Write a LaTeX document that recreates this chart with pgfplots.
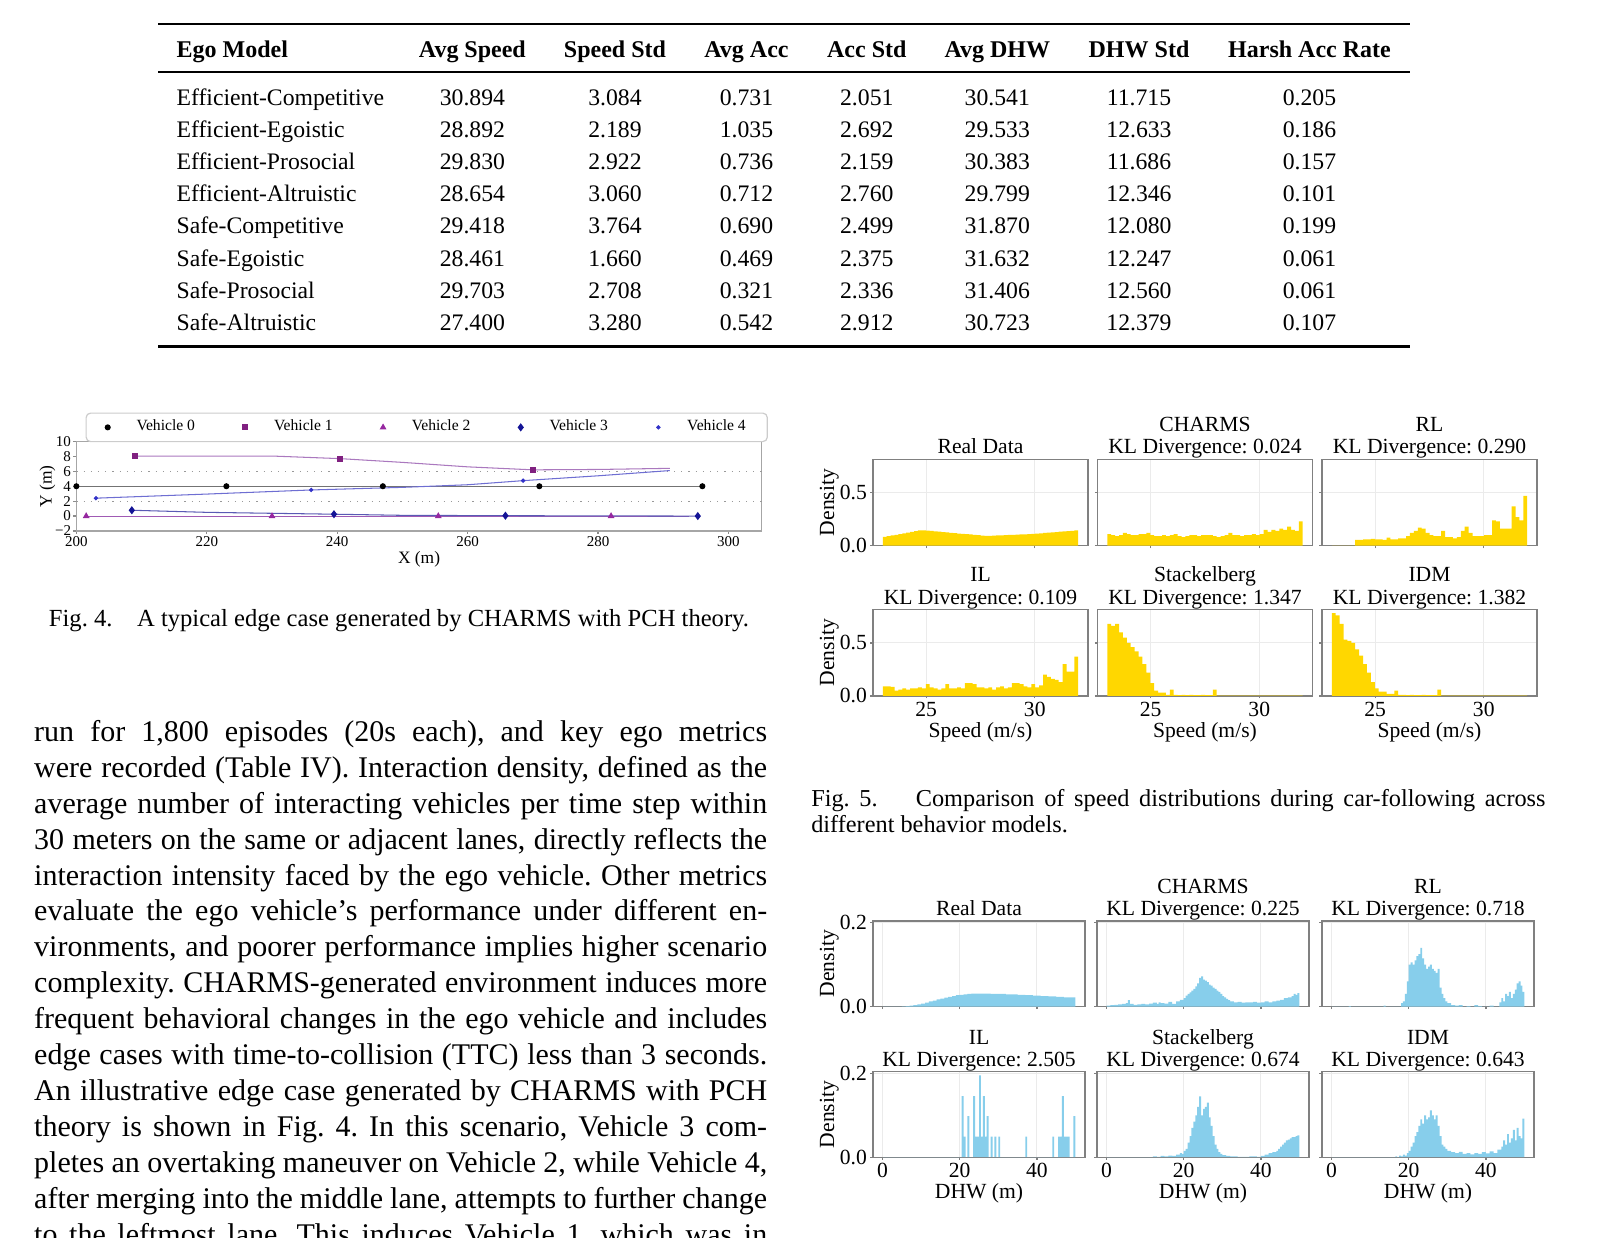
\documentclass[border=0pt]{standalone}
\usepackage{fontspec}
\setmainfont{Liberation Serif}
\usepackage{pgfplots}
\usepackage{pgfplotstable}
\pgfplotsset{compat=1.18}
\definecolor{histgold}{RGB}{255,215,0}
\definecolor{histblue}{RGB}{135,206,235}
\definecolor{vone}{RGB}{128,32,128}
\definecolor{vtwo}{RGB}{150,40,160}
\definecolor{vthree}{RGB}{20,20,150}
\definecolor{vfour}{RGB}{50,50,200}
\definecolor{lone}{RGB}{170,120,190}
\definecolor{ltwo}{RGB}{160,90,180}
\definecolor{lthree}{RGB}{90,90,180}
\definecolor{lfour}{RGB}{110,110,210}

\pgfplotstableread{
x real charms rl il stack idm
23.00 0.083 0.11 0 0.09 0.68 0.78
23.18 0.090 0.10 0 0.09 0.66 0.76
23.36 0.097 0.09 0 0.085 0.68 0.68
23.54 0.103 0.10 0 0.05 0.60 0.53
23.72 0.110 0.12 0 0.06 0.55 0.52
23.90 0.117 0.11 0 0.07 0.50 0.50
24.08 0.124 0.10 0.055 0.06 0.46 0.44
24.26 0.130 0.10 0.055 0.07 0.42 0.38
24.44 0.137 0.11 0.06 0.07 0.37 0.30
24.62 0.144 0.11 0.06 0.08 0.30 0.22
24.80 0.145 0.12 0.065 0.07 0.22 0.13
24.98 0.142 0.10 0.06 0.11 0.12 0.07
25.16 0.139 0.09 0.06 0.08 0.05 0.04
25.34 0.135 0.09 0.055 0.07 0.03 0.04
25.52 0.132 0.10 0.075 0.06 0.03 0.02
25.70 0.129 0.09 0.06 0.07 0.01 0.02
25.88 0.125 0.10 0.06 0.11 0.06 0.05
26.06 0.122 0.11 0.07 0.07 0.01 0.01
26.24 0.119 0.09 0.07 0.07 0.008 0.01
26.42 0.115 0.08 0.09 0.08 0.01 0.008
26.60 0.112 0.09 0.12 0.07 0.008 0.01
26.78 0.109 0.10 0.14 0.12 0.01 0.008
26.96 0.106 0.10 0.17 0.12 0.008 0.008
27.14 0.102 0.09 0.16 0.11 0.008 0.01
27.32 0.099 0.10 0.12 0.08 0.01 0.008
27.50 0.096 0.10 0.10 0.08 0.008 0.008
27.68 0.093 0.10 0.09 0.07 0.008 0.008
27.86 0.093 0.09 0.09 0.08 0.06 0.06
28.04 0.095 0.08 0.14 0.06 0.003 0.003
28.22 0.097 0.09 0.08 0.08 0.003 0.003
28.40 0.098 0.10 0.08 0.09 0.003 0.003
28.58 0.100 0.12 0.07 0.07 0.003 0.003
28.76 0.102 0.10 0.08 0.08 0.003 0.003
28.94 0.103 0.10 0.14 0.12 0.003 0.003
29.12 0.105 0.09 0.18 0.12 0.003 0.003
29.30 0.107 0.10 0.12 0.11 0.003 0.003
29.48 0.108 0.10 0.09 0.09 0.003 0.003
29.66 0.110 0.11 0.09 0.08 0.003 0.003
29.84 0.111 0.10 0.09 0.11 0.003 0.003
30.02 0.114 0.11 0.10 0.08 0.003 0.003
30.20 0.117 0.15 0.10 0.10 0.003 0.003
30.38 0.120 0.13 0.24 0.20 0.003 0.003
30.56 0.123 0.15 0.23 0.18 0.003 0.003
30.74 0.126 0.14 0.16 0.16 0.003 0.003
30.92 0.129 0.16 0.16 0.15 0.003 0.003
31.10 0.132 0.15 0.16 0.13 0.003 0.003
31.28 0.135 0.18 0.37 0.30 0.003 0.003
31.46 0.138 0.15 0.27 0.23 0.003 0.003
31.64 0.141 0.14 0.24 0.23 0.003 0.003
31.82 0.144 0.23 0.47 0.37 0.003 0.003
32.00 0.144 0.23 0.47 0.37 0.003 0.003
}\speedtab

\newcommand{\fsfig}{\fontsize{7.2}{8}\selectfont}
\newcommand{\ttwo}[2]{%
  \node[font=\fsfig, anchor=base, inner sep=0pt] at ([yshift=9.2pt]rel axis cs:0.5,1) {#1};
  \node[font=\fsfig, anchor=base, inner sep=0pt] at ([yshift=1.8pt]rel axis cs:0.5,1) {#2};}
\newcommand{\tone}[1]{%
  \node[font=\fsfig, anchor=base, inner sep=0pt] at ([yshift=1.8pt]rel axis cs:0.5,1) {#1};}
\newcommand{\dens}{%
  \node[font=\fsfig, anchor=base, rotate=90, inner sep=0pt] at ([xshift=-13pt]rel axis cs:0,0.5) {Density};}
\newcommand{\xlab}[1]{%
  \node[font=\fsfig, anchor=base, inner sep=0pt] at ([yshift=-13.8pt]rel axis cs:0.5,0) {#1};}

\pgfplotsset{
  histax/.style={
    scale only axis, anchor=north west, clip=false,
    enlargelimits=false,
    axis line style={black!50, line width=0.45pt},
    tick style={black!50, line width=0.45pt},
    major tick length=0.85pt,
    tick align=outside, tick pos=left,
    xmajorgrids, ymajorgrids,
    major grid style={black!8, line width=0.3pt},
    tick label style={font=\fsfig, inner sep=1pt},
    /pgf/number format/assume math mode=true,
    yticklabel style={/pgf/number format/.cd, fixed, fixed zerofill, precision=1},
  },
  speedax/.style={histax, width=71.67pt, height=28.8pt,
    xmin=22.55, xmax=32.45, ymin=0, ymax=0.815, xtick={25,30}, ytick={0,0.5}},
  dhwax/.style={histax, width=70.67pt, height=28.5pt,
    xmin=-2.5, xmax=52.5, ymin=0, ymax=0.204, xtick={0,20,40}, ytick={0,0.2}},
  noxl/.style={xticklabels={}},
  noyl/.style={yticklabels={}},
  gbar/.style={fill=histgold, draw=none, const plot mark left},
  bbar/.style={fill=histblue, draw=none, const plot mark left},
}

\newcommand{\trow}[9]{%
  \node[anchor=base west] at (176,#1) {#2};
  \node[anchor=base] at (472.4,#1) {#3};
  \node[anchor=base] at (615,#1) {#4};
  \node[anchor=base] at (746.5,#1) {#5};
  \node[anchor=base] at (866.8,#1) {#6};
  \node[anchor=base] at (997.3,#1) {#7};
  \node[anchor=base] at (1139,#1) {#8};
  \node[anchor=base] at (1309.5,#1) {#9};}

\newcommand{\bline}[2]{\node[anchor=base west, inner sep=0pt] at (33.6,#1) {\hbox to 244.33pt{#2}};}

\begin{document}
\frenchspacing
\begin{tikzpicture}
\path[use as bounding box] (0pt,0pt) rectangle (532.333pt,-412.333pt);
\clip (0pt,0pt) rectangle (532.333pt,-412.333pt);

\begin{scope}[x=0.333333pt, y=-0.333333pt]
\coordinate (f4) at (76.4,441.5);
\coordinate (s1) at (873,459.3);
\coordinate (s2) at (1097.5,459.3);
\coordinate (s3) at (1322,459.3);
\coordinate (s4) at (873,609.5);
\coordinate (s5) at (1097.5,609.5);
\coordinate (s6) at (1322,609.5);
\coordinate (d1) at (873,921);
\coordinate (d2) at (1097,921);
\coordinate (d3) at (1322,921);
\coordinate (d4) at (873,1071.7);
\coordinate (d5) at (1097,1071.7);
\coordinate (d6) at (1322,1071.7);

% ---------- table ----------
\draw[line width=0.8pt] (158,24.3) -- (1410,24.3);
\draw[line width=0.45pt] (158,72) -- (1410,72);
\draw[line width=0.8pt] (158,346.7) -- (1410,346.7);
\begin{scope}[font=\fontsize{7.9}{9.6}\selectfont, inner sep=0pt]
\begin{scope}[font=\fontsize{8}{9.6}\selectfont\bfseries]
\trow{58}{Ego Model}{Avg Speed}{Speed Std}{Avg Acc}{Acc Std}{Avg DHW}{DHW Std}{Harsh Acc Rate}
\end{scope}
\trow{105.7}{Efficient-Competitive}{30.894}{3.084}{0.731}{2.051}{30.541}{11.715}{0.205}
\trow{138}{Efficient-Egoistic}{28.892}{2.189}{1.035}{2.692}{29.533}{12.633}{0.186}
\trow{169.7}{Efficient-Prosocial}{29.830}{2.922}{0.736}{2.159}{30.383}{11.686}{0.157}
\trow{202}{Efficient-Altruistic}{28.654}{3.060}{0.712}{2.760}{29.799}{12.346}{0.101}
\trow{234}{Safe-Competitive}{29.418}{3.764}{0.690}{2.499}{31.870}{12.080}{0.199}
\trow{266.3}{Safe-Egoistic}{28.461}{1.660}{0.469}{2.375}{31.632}{12.247}{0.061}
\trow{298.3}{Safe-Prosocial}{29.703}{2.708}{0.321}{2.336}{31.406}{12.560}{0.061}
\trow{330.3}{Safe-Altruistic}{27.400}{3.280}{0.542}{2.912}{30.723}{12.379}{0.107}
\end{scope}

% ---------- captions ----------
\node[anchor=base, inner sep=0pt, font=\fontsize{8.2}{9.5}\selectfont] at (399,627)
  {Fig. 4.\hspace{8.2pt}A typical edge case generated by CHARMS with PCH theory.};
\node[anchor=base west, inner sep=0pt, font=\fontsize{8.1}{9.5}\selectfont] at (810.7,806.5)
  {\hbox to 244.77pt{Fig. 5.\hskip 8pt plus 4pt Comparison of speed distributions during car-following across}};
\node[anchor=base west, inner sep=0pt, font=\fontsize{8.1}{9.5}\selectfont] at (810.7,833)
  {different behavior models.};

% ---------- body text ----------
\begin{scope}[font=\fontsize{10}{12}\selectfont]
\bline{741.5}{run for 1,800 episodes (20s each), and key ego metrics}
\bline{777.4}{were recorded (Table IV). Interaction density, defined as the}
\bline{813.3}{average number of interacting vehicles per time step within}
\bline{849.2}{30 meters on the same or adjacent lanes, directly reflects the}
\bline{885.1}{interaction intensity faced by the ego vehicle. Other metrics}
\bline{921.0}{evaluate the ego vehicle’s performance under different en-}
\bline{956.9}{vironments, and poorer performance implies higher scenario}
\bline{992.8}{complexity. CHARMS-generated environment induces more}
\bline{1028.7}{frequent behavioral changes in the ego vehicle and includes}
\bline{1064.6}{edge cases with time-to-collision (TTC) less than 3 seconds.}
\bline{1100.5}{An illustrative edge case generated by CHARMS with PCH}
\bline{1136.4}{theory is shown in Fig. 4. In this scenario, Vehicle 3 com-}
\bline{1172.3}{pletes an overtaking maneuver on Vehicle 2, while Vehicle 4,}
\bline{1208.2}{after merging into the middle lane, attempts to further change}
\bline{1244.1}{to the leftmost lane. This induces Vehicle 1, which was in}
\end{scope}
\end{scope}

% ---------- Fig. 4 ----------
\begin{axis}[scale only axis, anchor=north west, at={(f4)},
  width=228.43pt, height=29.83pt, clip=false,
  xmin=200, xmax=305.1, ymin=-2, ymax=10,
  xtick={200,220,240,260,280,300},
  ytick={-2,0,2,4,6,8,10}, yticklabels={−2,0,2,4,6,8,10},
  axis line style={black!35, line width=0.4pt},
  tick style={black!45, line width=0.4pt}, major tick length=1pt,
  tick align=outside, tick pos=left,
  tick label style={font=\fontsize{5}{6}\selectfont, inner sep=0.6pt},
  /pgf/number format/assume math mode=true,
  legend columns=5, legend cell align=left,
  legend image code/.code={%
    \path[draw=none, fill=none] (0pt,-1pt) rectangle (9.6pt,1pt);
    \draw[#1, only marks] plot coordinates {(2pt,0pt)};},
  legend style={at={(0.0133,1.324)}, anchor=north west, draw=black!20, rounded corners=1.5pt,
    inner xsep=5.2pt, inner ysep=0.2pt, font=\fontsize{5.2}{6}\selectfont,
    nodes={inner sep=2pt, text depth=0.15em},
    /tikz/every even column/.append style={column sep=12.8pt}},
]
\addplot[only marks, mark=*, mark size=0.8pt, black] coordinates {(200,4) (223,4) (247,4) (271,4) (296,4)};
\addlegendentry{Vehicle 0}
\addplot[only marks, mark=square*, mark size=0.8pt, vone] coordinates {(209,8.05) (240.5,7.7) (270,6.2)};
\addlegendentry{Vehicle 1}
\addplot[only marks, mark=triangle*, mark size=0.9pt, vtwo] coordinates {(201.5,0) (230,0) (255.5,0) (282,0)};
\addlegendentry{Vehicle 2}
\addplot[only marks, mark=diamond*, mark size=1.05pt, vthree] coordinates {(208.5,0.78) (239.5,0.25) (265.8,0.05) (295.3,0)};
\addlegendentry{Vehicle 3}
\addplot[only marks, mark=*, mark size=0.5pt, vfour] coordinates {(203,2.4) (236,3.5) (268.5,4.75)};
\addlegendentry{Vehicle 4}
\addplot[forget plot, black!40, dotted, line width=0.4pt] coordinates {(200,6) (305.1,6)};
\addplot[forget plot, black!40, dotted, line width=0.4pt] coordinates {(200,2) (305.1,2)};
\addplot[forget plot, black!55, line width=0.35pt] coordinates {(200,4) (296,4)};
\addplot[forget plot, lone, line width=0.35pt] coordinates {(209,8.05) (230,8.05) (240.5,7.7) (250,7.2) (260,6.6) (270,6.2) (280,6.25) (291,6.4)};
\addplot[forget plot, ltwo, line width=0.35pt] coordinates {(201.5,0) (294,0)};
\addplot[forget plot, lthree, line width=0.35pt] coordinates {(208.5,0.78) (220,0.5) (239.5,0.25) (250,0.1) (265.8,0.05) (295.3,0)};
\addplot[forget plot, lfour, line width=0.35pt] coordinates {(203,2.4) (220,2.95) (236,3.5) (250,3.85) (260,4.2) (268.5,4.75) (280,5.4) (291,6.1)};
\node[font=\fontsize{5.8}{7}\selectfont, anchor=base, rotate=90, inner sep=0pt] at ([xshift=-8.3pt]rel axis cs:0,0.5) {Y (m)};
\node[font=\fontsize{5.8}{7}\selectfont, anchor=base, inner sep=0pt] at ([yshift=-10.9pt]rel axis cs:0.5,0) {X (m)};
\end{axis}

% ---------- Fig. 5 speed ----------
\begin{axis}[speedax, at={(s1)}, noxl]
\addplot[gbar] table[x=x,y=real] {\speedtab} \closedcycle;
\tone{Real Data}\dens
\end{axis}
\begin{axis}[speedax, at={(s2)}, noxl, noyl]
\addplot[gbar] table[x=x,y=charms] {\speedtab} \closedcycle;
\ttwo{CHARMS}{KL Divergence: 0.024}
\end{axis}
\begin{axis}[speedax, at={(s3)}, noxl, noyl]
\addplot[gbar] table[x=x,y=rl] {\speedtab} \closedcycle;
\ttwo{RL}{KL Divergence: 0.290}
\end{axis}
\begin{axis}[speedax, at={(s4)}]
\addplot[gbar] table[x=x,y=il] {\speedtab} \closedcycle;
\ttwo{IL}{KL Divergence: 0.109}\dens\xlab{Speed (m/s)}
\end{axis}
\begin{axis}[speedax, at={(s5)}, noyl]
\addplot[gbar] table[x=x,y=stack] {\speedtab} \closedcycle;
\ttwo{Stackelberg}{KL Divergence: 1.347}\xlab{Speed (m/s)}
\end{axis}
\begin{axis}[speedax, at={(s6)}, noyl]
\addplot[gbar] table[x=x,y=idm] {\speedtab} \closedcycle;
\ttwo{IDM}{KL Divergence: 1.382}\xlab{Speed (m/s)}
\end{axis}

% ---------- DHW ----------
\begin{axis}[dhwax, at={(d1)}, noxl]
\addplot[bbar] coordinates {(0,0) (5,0.0005) (6,0.001) (7,0.002) (8,0.003) (9,0.005) (10,0.007) (11,0.009) (12,0.012) (13,0.014) (14,0.017) (15,0.019) (16,0.021) (17,0.023) (18,0.025) (19,0.027) (20,0.028) (21,0.029) (22,0.030) (23,0.031) (24,0.031) (25,0.031) (26,0.031) (27,0.031) (28,0.030) (29,0.030) (30,0.030) (31,0.030) (32,0.029) (33,0.029) (34,0.029) (35,0.028) (36,0.028) (37,0.027) (38,0.027) (39,0.026) (40,0.026) (41,0.025) (42,0.025) (43,0.024) (44,0.024) (45,0.023) (46,0.023) (47,0.022) (48,0.022) (49,0.022) (50,0.022)} \closedcycle;
\tone{Real Data}\dens
\end{axis}
\begin{axis}[dhwax, at={(d2)}, noxl, noyl]
\addplot[bbar] coordinates {(0,0.002) (1,0.003) (2,0.004) (3,0.005) (4,0.006) (5,0.008) (5.5,0.015) (6,0.006) (7,0.004) (8,0.005) (9,0.006) (10,0.005) (11,0.007) (12,0.009) (13,0.006) (13.5,0.01) (14,0.008) (15,0.007) (16,0.011) (17,0.006) (18,0.012) (19,0.016) (20,0.02) (20.5,0.026) (21,0.03) (21.5,0.034) (22,0.038) (22.5,0.042) (23,0.048) (23.5,0.055) (24,0.068) (24.5,0.072) (25,0.064) (25.5,0.062) (26,0.058) (26.5,0.052) (27,0.05) (27.5,0.045) (28,0.042) (28.5,0.038) (29,0.035) (29.5,0.03) (30,0.025) (30.5,0.022) (31,0.018) (31.5,0.015) (32,0.012) (33,0.01) (34,0.011) (35,0.009) (36,0.01) (37,0.01) (38,0.011) (39,0.009) (40,0.01) (41,0.012) (42,0.01) (43,0.012) (44,0.014) (45,0.016) (46,0.02) (47,0.022) (48,0.025) (48.5,0.03) (49,0.028) (49.5,0.032) (50,0.032)} \closedcycle;
\ttwo{CHARMS}{KL Divergence: 0.225}
\end{axis}
\begin{axis}[dhwax, at={(d3)}, noxl, noyl]
\addplot[bbar] coordinates {(0,0) (4.5,0.001) (5,0) (13.5,0.002) (14,0) (18,0.008) (18.5,0.012) (19,0.03) (19.5,0.06) (20,0.1) (20.5,0.105) (21,0.1) (21.5,0.11) (22,0.12) (22.5,0.125) (23,0.14) (23.5,0.115) (24,0.1) (24.5,0.09) (25,0.095) (25.5,0.1) (26,0.09) (26.5,0.085) (27,0.08) (27.5,0.09) (28,0.045) (28.5,0.03) (29,0.02) (29.5,0.012) (30,0.008) (31,0.003) (32,0.002) (33,0.003) (34,0) (35,0.001) (36,0) (37,0.003) (38,0.001) (39,0) (41,0.002) (42,0) (43.5,0.01) (44,0.02) (44.5,0.012) (45,0.03) (45.5,0.025) (46,0.035) (46.5,0.02) (47,0.03) (47.5,0.04) (48,0.055) (48.5,0.06) (49,0.05) (49.5,0.035) (50,0.035)} \closedcycle;
\ttwo{RL}{KL Divergence: 0.718}
\end{axis}
\begin{axis}[dhwax, at={(d4)}]
\addplot[bbar] coordinates {(0,0) (20.5,0.146) (21,0.049) (21.5,0) (22,0.098) (22.5,0) (23.5,0.146) (24,0.049) (25,0.195) (25.5,0.049) (26,0.146) (26.5,0.049) (27,0.098) (27.5,0) (28,0.049) (28.5,0) (29,0.049) (29.5,0) (30,0.049) (30.5,0) (37,0.049) (37.5,0) (44,0.049) (44.5,0) (45.5,0.049) (46.5,0.146) (47,0.049) (48.5,0) (49.5,0.098) (50,0.098)} \closedcycle;
\ttwo{IL}{KL Divergence: 2.505}\dens\xlab{DHW (m)}
\end{axis}
\begin{axis}[dhwax, at={(d5)}, noyl]
\addplot[bbar] coordinates {(0,0) (12,0.002) (13,0.001) (14,0.003) (15,0.002) (16,0.004) (17,0.003) (18,0.006) (19,0.01) (19.5,0.008) (20,0.015) (20.5,0.02) (21,0.035) (21.5,0.05) (22,0.07) (22.5,0.085) (23,0.1) (23.5,0.12) (24,0.145) (24.5,0.1) (25,0.115) (25.5,0.12) (26,0.13) (26.5,0.095) (27,0.075) (27.5,0.05) (28,0.03) (28.5,0.02) (29,0.012) (29.5,0.008) (30,0.005) (31,0.003) (32,0.002) (34,0.001) (37,0.002) (39,0.001) (40,0.003) (41,0.006) (42,0.01) (43,0.012) (44,0.015) (44.5,0.02) (45,0.025) (45.5,0.03) (46,0.035) (46.5,0.04) (47,0.042) (47.5,0.045) (48,0.048) (49,0.05) (49.5,0.052) (50,0.052)} \closedcycle;
\ttwo{Stackelberg}{KL Divergence: 0.674}\xlab{DHW (m)}
\end{axis}
\begin{axis}[dhwax, at={(d6)}, noyl]
\addplot[bbar] coordinates {(0,0) (16.5,0.002) (17,0) (17.5,0.004) (18,0.002) (18.5,0.006) (19,0.004) (19.5,0.01) (20,0.015) (20.5,0.025) (21,0.035) (21.5,0.05) (22,0.06) (22.5,0.075) (23,0.09) (23.5,0.08) (24,0.1) (24.5,0.09) (25,0.095) (25.5,0.112) (26,0.1) (26.5,0.09) (27,0.1) (27.5,0.075) (28,0.05) (28.5,0.03) (29,0.025) (29.5,0.02) (30,0.015) (31,0.012) (32,0.01) (33,0.013) (34,0.008) (35,0.01) (36,0.007) (37,0.01) (38,0.008) (39,0.012) (40,0.009) (41,0.014) (42,0.01) (43,0.018) (44,0.025) (44.5,0.04) (45,0.03) (45.5,0.055) (46,0.035) (46.5,0.045) (47,0.065) (47.5,0.04) (48,0.07) (48.5,0.05) (49,0.045) (49.5,0.092) (50,0.092)} \closedcycle;
\ttwo{IDM}{KL Divergence: 0.643}\xlab{DHW (m)}
\end{axis}
\end{tikzpicture}
\end{document}
